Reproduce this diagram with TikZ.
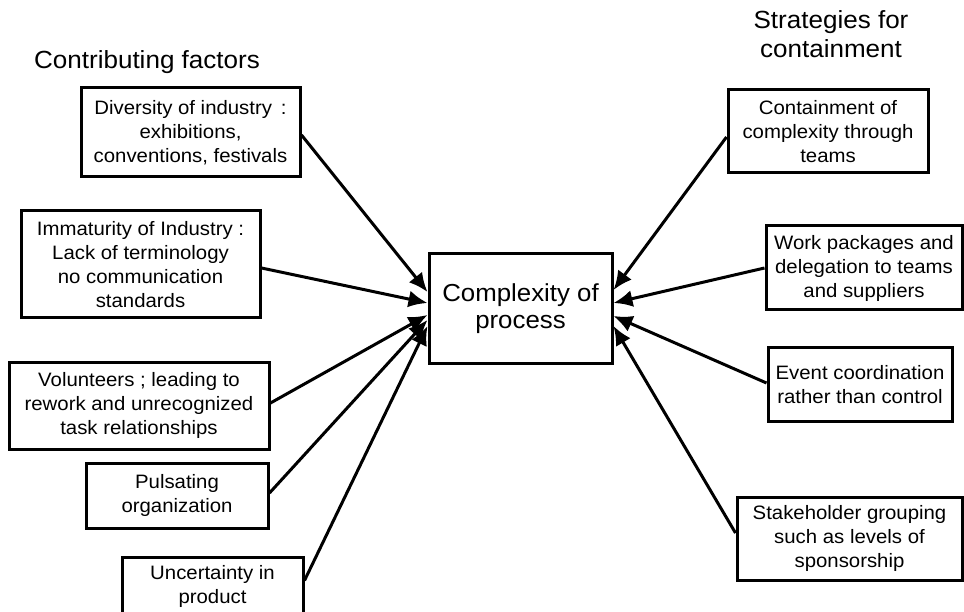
\documentclass[tikz,border=0pt]{standalone}
\usepackage{fontspec}
\setmainfont{Liberation Sans}[FakeStretch=1.05]
\usetikzlibrary{arrows.meta}

\tikzset{
  factor/.style={draw=black, line width=3pt, fill=white, inner sep=0pt,
    align=center, font=\fontsize{19.4}{24}\selectfont},
  hub/.style={draw=black, line width=3pt, fill=white, inner sep=0pt,
    align=center, font=\fontsize{24.6}{27}\selectfont},
  heading/.style={align=center, font=\fontsize{24.8}{29}\selectfont},
  conn/.style={draw=black, line width=3pt, -{Latex[length=19pt,width=17pt]}}
}

\begin{document}
\begin{tikzpicture}[x=1pt,y=-1pt]
  \useasboundingbox (0,0) rectangle (964,612);
  \clip (0,0) rectangle (964,612);
  \fill[white] (0,0) rectangle (964,612);

  % headings
  \node[heading, anchor=base] (hl) at (147,69) {Contributing factors};
  \node[heading] (hr) at (831,34.3) {Strategies for\\containment};

  % central node
  \node[hub, minimum width=183pt, minimum height=109pt] (c) at (520.5,308.5)
    {Complexity of\\process};

  % contributing factors
  \node[factor, minimum width=219pt, minimum height=89pt] (div) at (190.5,132.5)
    {Diversity of industry \,:\\exhibitions,\\conventions, festivals};
  \node[factor, minimum width=239pt, minimum height=107pt] (imm) at (140.5,264.5)
    {Immaturity of Industry :\\Lack of terminology\\no communication\\standards};
  \node[factor, minimum width=260pt, minimum height=87pt] (vol) at (139,405.5)
    {Volunteers ; leading to\\rework and unrecognized\\task relationships};
  \node[factor, minimum width=182pt, minimum height=65pt] (pul) at (177,495.5)
    {Pulsating\\organization};
  \node[factor, minimum width=181pt, minimum height=58pt] (unc) at (212.5,586)
    {Uncertainty in\\product};

  % strategies for containment
  \node[factor, minimum width=200pt, minimum height=83pt] (cont) at (828,131.5)
    {Containment of\\complexity through\\teams};
  \node[factor, minimum width=196pt, minimum height=84pt] (work) at (864,268)
    {Work packages and\\delegation to teams\\and suppliers};
  \node[factor, minimum width=184pt, minimum height=73pt] (evt) at (860,384.5)
    {Event coordination\\rather than control};
  \node[factor, minimum width=225pt, minimum height=83pt] (stk) at (849.5,538.5)
    {Stakeholder grouping\\such as levels of\\sponsorship};

  % connectors into the central node
  \draw[conn] ([yshift=-2.5pt]div.east) -- ([yshift=16.5pt]c.west);
  \draw[conn] ([yshift=-3.5pt]imm.east) -- ([yshift=5.5pt]c.west);
  \draw[conn] ([yshift=2.5pt]vol.east) -- ([yshift=-6.5pt]c.west);
  \draw[conn] ([yshift=2.5pt]pul.east) -- ([yshift=-11.5pt]c.west);
  \draw[conn] ([yshift=5.5pt]unc.east) -- ([yshift=-17.5pt]c.west);

  \draw[conn] ([yshift=-5.5pt]cont.west) -- ([yshift=18.5pt]c.east);
  \draw[conn] (work.west) -- ([yshift=5.5pt]c.east);
  \draw[conn] ([yshift=1.5pt]evt.west) -- ([yshift=-7.5pt]c.east);
  \draw[conn] ([yshift=5.5pt]stk.west) -- ([yshift=-17.5pt]c.east);
\end{tikzpicture}
\end{document}
